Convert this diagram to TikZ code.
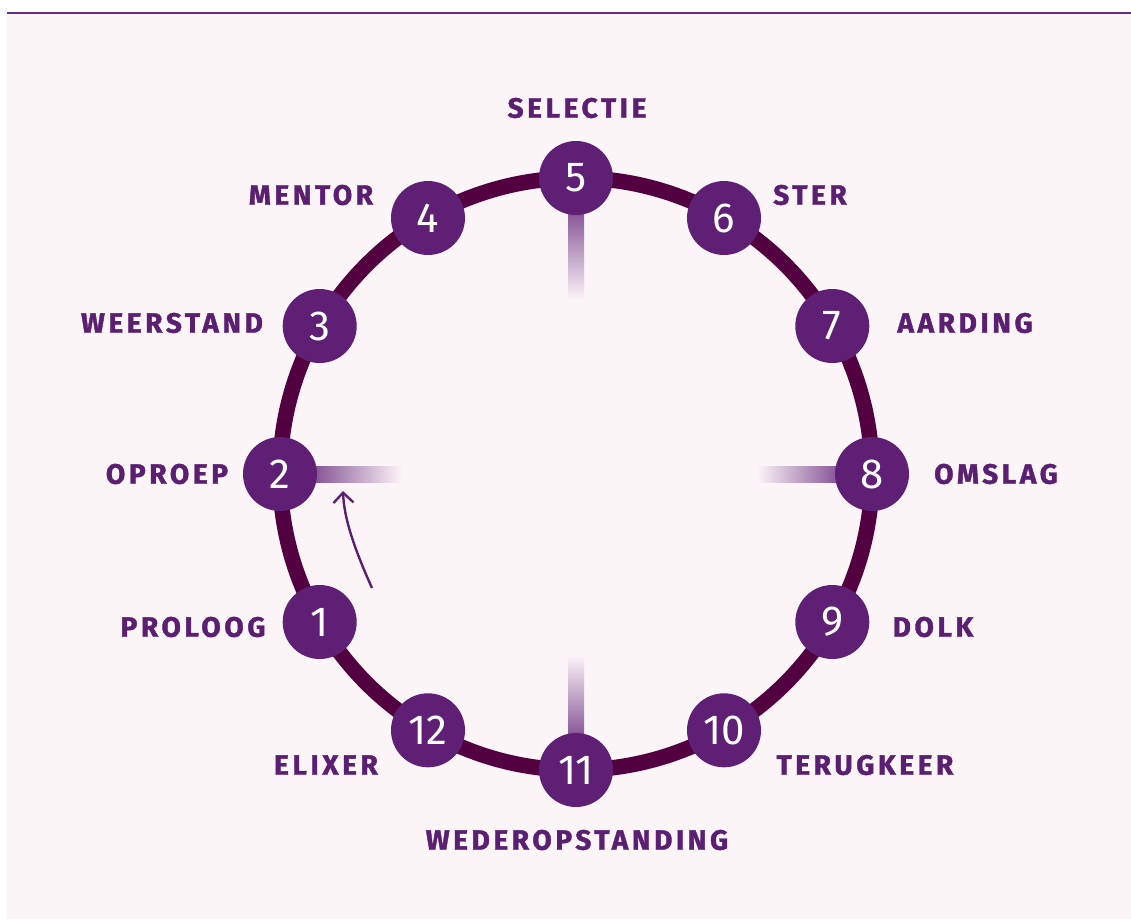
\documentclass[tikz,border=0pt]{standalone}
\usepackage{fontspec}
\setmainfont{Fira Sans}
\newfontfamily\lblfont[LetterSpace=13, BoldFeatures={FakeBold=1.4}]{Fira Sans}
\usetikzlibrary{arrows.meta}
\definecolor{bgc}{HTML}{FCF5F8}
\definecolor{ringc}{HTML}{520040}
\definecolor{nodec}{HTML}{5E1F74}
\definecolor{txtc}{HTML}{5B1F72}
\definecolor{tickc}{HTML}{875597}
\definecolor{linec}{HTML}{6A2C80}
\tikzset{
  stage/.style={circle, fill=nodec, minimum size=74pt, inner sep=0pt, text=white, font=\fontsize{42}{42}\selectfont},
  lbl/.style={text=txtc, font=\lblfont\bfseries\fontsize{28}{28}\selectfont, inner sep=0pt},
}
\begin{document}
\begin{tikzpicture}[x=1pt,y=-1pt]
\useasboundingbox (0,0) rectangle (1131,919);
\fill[white] (0,0) rectangle (1131,919);
\fill[bgc] (7,14) rectangle (1131,919);
\draw[linec, line width=2.5pt] (7,13) -- (1131,13);
% ring
\coordinate (c) at (576,474);
\draw[ringc, line width=15.5pt] (c) circle[radius=296];
% ticks
\shade[top color=tickc, bottom color=bgc] (568,212) rectangle (584,300);
\shade[top color=bgc, bottom color=tickc] (568,655) rectangle (584,736);
\shade[left color=tickc, right color=bgc] (315,466) rectangle (402,482);
\shade[left color=bgc, right color=tickc] (757,466) rectangle (838,482);
% stages
\node[stage] (n5) at (576,178) {5};
\node[stage] (n6) at (724,218) {6};
\node[stage] (n7) at (832.3,326) {7};
\node[stage] (n8) at (872,474) {8};
\node[stage] (n9) at (832.3,622) {9};
\node[stage] (n10) at (724,730.3) {10};
\node[stage] (n11) at (576,770) {11};
\node[stage] (n12) at (428,730.3) {12};
\node[stage] (n1) at (319.7,622) {1};
\node[stage] (n2) at (280,474) {2};
\node[stage] (n3) at (319.7,326) {3};
\node[stage] (n4) at (428,218) {4};
% labels
\node[lbl] (l5) at (577,108) {SELECTIE};
\node[lbl] (l4) at (311,195) {MENTOR};
\node[lbl] (l6) at (810,195) {STER};
\node[lbl] (l3) at (172,323) {WEERSTAND};
\node[lbl] (l7) at (965,323) {AARDING};
\node[lbl] (l2) at (167,474) {OPROEP};
\node[lbl] (l8) at (996,474) {OMSLAG};
\node[lbl] (l1) at (193,627) {PROLOOG};
\node[lbl] (l9) at (933,627) {DOLK};
\node[lbl] (l12) at (326,765) {ELIXER};
\node[lbl] (l10) at (865,765) {TERUGKEER};
\node[lbl] (l11) at (577,840) {WEDEROPSTANDING};
% arrow
\coordinate (as) at (372,588);
\coordinate (ae) at (343,491);
\draw[txtc, line width=2.4pt, -{Straight Barb[length=10pt,width=20pt]}] (as) .. controls (354,548) and (344,518) .. (ae);
\end{tikzpicture}
\end{document}
